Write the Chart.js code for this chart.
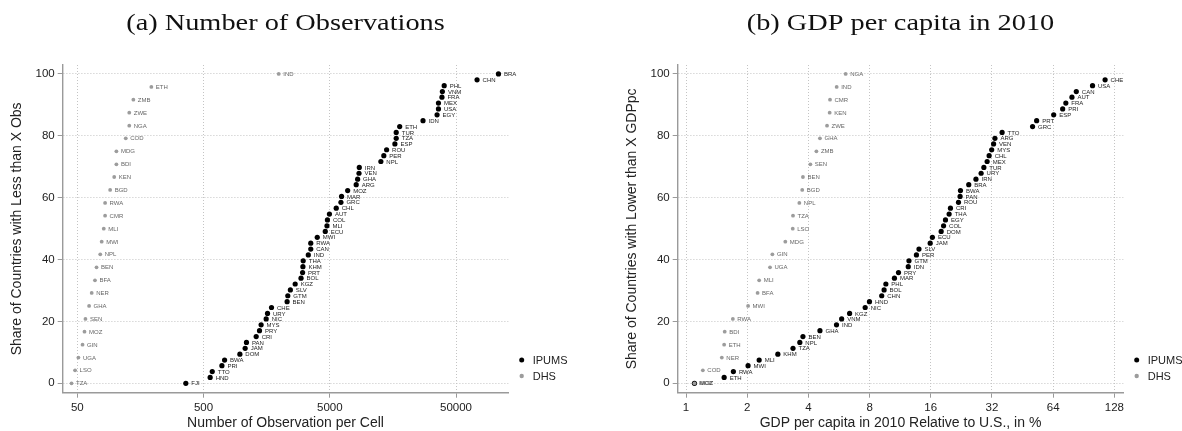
<!DOCTYPE html>
<html>
<head>
<meta charset="utf-8">
<script src="https://cdn.jsdelivr.net/npm/chart.js@4.4.1/dist/chart.umd.min.js"></script>
<style>
  html, body { margin: 0; padding: 0; background: #fff; }
  #wrap { position: relative; width: 1182px; height: 431px; overflow: hidden; }
  canvas { position: absolute; top: 0; }
  #obsChart { left: 0; }
  #gdpChart { left: 615px; }
</style>
</head>
<body>
<div id="wrap">
  <canvas id="obsChart" width="615" height="431"></canvas>
  <canvas id="gdpChart" width="567" height="431"></canvas>
</div>
<script>
// ---- Panel (a): observations per cell ----
const obsDhsCodes = ['TZA','LSO','UGA','GIN','MOZ','SEN','GHA','NER','BFA','BEN','NPL','MWI','MLI','CMR','RWA','BGD','KEN','BDI','MDG','COD','NGA','ZWE','ZMB','ETH','IND'];
const obsDhsValues = [45,48,51,55,57,58,62,65,69,71,76,78,81,83,83,91,98,102,102,121,129,129,139,193,1970];
const obsDhsShares = [0,4.2,8.3,12.5,16.7,20.8,25,29.2,33.3,37.5,41.7,45.8,50,54.2,58.3,62.5,66.7,70.8,75,79.2,83.3,87.5,91.7,95.8,100];

const obsIpumsCodes = ['FJI','HND','TTO','PRI','BWA','DOM','JAM','PAN','CRI','PRY','MYS','NIC','URY','CHE','BEN','GTM','SLV','KGZ','BOL','PRT','KHM','THA','IND','CAN','RWA','MWI','ECU','MLI','COL','AUT','CHL','GRC','MAR','MOZ','ARG','GHA','VEN','IRN','NPL','PER','ROU','ESP','TZA','TUR','ETH','IDN','EGY','USA','MEX','FRA','VNM','PHL','CHN','BRA'];
const obsIpumsValues = [362,564,586,699,734,970,1068,1094,1306,1388,1429,1567,1606,1727,2296,2325,2437,2660,2960,3046,3063,3080,3380,3535,3535,3980,4606,4750,4790,4970,5625,6130,6200,6930,8100,8310,8520,8570,12700,13400,14100,16400,16800,16800,17900,27400,35400,36300,36300,38700,39000,40300,73400,108500];
const obsIpumsShares = [0,1.9,3.8,5.7,7.5,9.4,11.3,13.2,15.1,17.0,18.9,20.8,22.6,24.5,26.4,28.3,30.2,32.1,34.0,35.8,37.7,39.6,41.5,43.4,45.3,47.2,49.1,50.9,52.8,54.7,56.6,58.5,60.4,62.3,64.2,66.0,67.9,69.8,71.7,73.6,75.5,77.4,79.2,81.1,83.0,84.9,86.8,88.7,90.6,92.5,94.3,96.2,98.1,100];
const obsTicks = [50,500,5000,50000];

// ---- Panel (b): GDP per capita relative to the U.S. ----
const gdpDhsCodes = ['MOZ','COD','NER','ETH','BDI','RWA','MWI','BFA','MLI','UGA','GIN','MDG','LSO','TZA','NPL','BGD','BEN','SEN','ZMB','GHA','ZWE','KEN','CMR','IND','NGA'];
const gdpDhsValues = [1.10,1.21,1.50,1.54,1.55,1.70,2.02,2.25,2.29,2.59,2.66,3.08,3.35,3.36,3.61,3.73,3.76,4.09,4.38,4.56,4.94,5.09,5.11,5.51,6.10];
const gdpDhsShares = [0,4.2,8.3,12.5,16.7,20.8,25,29.2,33.3,37.5,41.7,45.8,50,54.2,58.3,62.5,66.7,70.8,75,79.2,83.3,87.5,91.7,95.8,100];

const gdpIpumsCodes = ['MOZ','ETH','RWA','MWI','MLI','KHM','TZA','NPL','BEN','GHA','IND','VNM','KGZ','NIC','HND','CHN','BOL','PHL','MAR','PRY','IDN','GTM','PER','SLV','JAM','ECU','DOM','COL','EGY','THA','CRI','ROU','PAN','BWA','BRA','IRN','URY','TUR','MEX','CHL','MYS','VEN','ARG','TTO','GRC','PRT','ESP','PRI','FRA','AUT','CAN','USA','CHE'];
const gdpIpumsValues = [1.10,1.54,1.71,2.02,2.29,2.83,3.36,3.63,3.76,4.56,5.50,5.83,6.38,7.61,7.99,9.18,9.43,9.62,10.6,11.1,12.4,12.5,13.6,14.0,15.9,16.3,18.0,18.5,18.9,19.7,20.0,21.9,22.3,22.4,24.6,26.7,28.3,29.2,30.3,31.0,31.9,32.6,33.1,35.9,50.7,53.1,64.4,71.3,73.9,79.2,83.2,100.0,115.3];
const gdpIpumsShares = [0,1.9,3.8,5.7,7.5,9.4,11.3,13.2,15.1,17.0,18.9,20.8,22.6,24.5,26.4,28.3,30.2,32.1,34.0,35.8,37.7,39.6,41.5,43.4,45.3,47.2,49.1,50.9,52.8,54.7,56.6,58.5,60.4,62.3,64.2,66.0,67.9,69.8,71.7,73.6,75.5,77.4,79.2,81.1,83.0,84.9,86.8,88.7,90.6,92.5,94.3,96.2,98.1];
const gdpTicks = [1,2,4,8,16,32,64,128];

const shareTicks = [0,20,40,60,80,100];

const SANS = '"Liberation Sans", Arial, sans-serif';
const SERIF = '"Liberation Serif", "Times New Roman", serif';
const AXIS_GREY = '#9a9a9a';
const GRID_GREY = '#c4c4c4';
const DHS_GREY = '#9c9c9c';

function toPoints(xs, ys) {
  return xs.map((x, i) => ({ x: x, y: ys[i] }));
}

// Titles, axis titles, point labels and the legend
const panelDecor = {
  id: 'panelDecor',
  afterDatasetsDraw(chart) {
    const ctx = chart.ctx;
    chart.data.datasets.forEach((ds, di) => {
      const meta = chart.getDatasetMeta(di);
      ctx.save();
      ctx.font = '6px ' + SANS;
      ctx.fillStyle = ds.labelColor;
      ctx.textAlign = 'left';
      ctx.textBaseline = 'middle';
      meta.data.forEach((pt, i) => {
        ctx.fillText(ds.codes[i], pt.x + ds.labelGap, pt.y + 0.5);
      });
      ctx.restore();
    });
  },
  afterDraw(chart, args, opts) {
    const ctx = chart.ctx;
    const area = chart.chartArea;
    const cx = (area.left + area.right) / 2;
    const cy = (area.top + area.bottom) / 2;
    ctx.save();
    // panel title, set wide in the manner of a Computer Modern caption
    ctx.save();
    ctx.fillStyle = '#111';
    ctx.font = '24px ' + SERIF;
    ctx.textAlign = 'center';
    ctx.textBaseline = 'alphabetic';
    ctx.translate(cx, 30);
    ctx.scale(1.18, 1);
    ctx.fillText(opts.title, 0, 0);
    ctx.restore();
    // x axis title
    ctx.fillStyle = '#222';
    ctx.font = '14px ' + SANS;
    ctx.textAlign = 'center';
    ctx.textBaseline = 'middle';
    ctx.fillText(opts.xTitle, cx, 423);
    // y axis title
    ctx.save();
    ctx.translate(17, cy);
    ctx.rotate(-Math.PI / 2);
    ctx.fillText(opts.yTitle, 0, 0);
    ctx.restore();
    // legend
    ctx.font = '11px ' + SANS;
    ctx.textAlign = 'left';
    opts.legend.forEach((item, i) => {
      const y = 360 + i * 16;
      ctx.beginPath();
      ctx.fillStyle = item.color;
      ctx.arc(521.7, y, item.r, 0, Math.PI * 2);
      ctx.fill();
      ctx.fillStyle = '#222';
      ctx.fillText(item.text, 532.7, y + 0.5);
    });
    ctx.restore();
  }
};

function makePanel(canvasId, cfg) {
  const canvas = document.getElementById(canvasId);
  return new Chart(canvas, {
    type: 'scatter',
    data: {
      datasets: [
        {
          label: 'IPUMS',
          data: toPoints(cfg.ipumsX, cfg.ipumsY),
          codes: cfg.ipumsCodes,
          labelColor: '#222',
          labelGap: 5.5,
          pointRadius: 2.6,
          pointHoverRadius: 2.6,
          backgroundColor: '#000',
          borderWidth: 0,
          order: 1
        },
        {
          label: 'DHS',
          data: toPoints(cfg.dhsX, cfg.dhsY),
          codes: cfg.dhsCodes,
          labelColor: '#666',
          labelGap: 4.5,
          pointRadius: 1.9,
          pointHoverRadius: 1.9,
          backgroundColor: DHS_GREY,
          borderWidth: 0,
          order: 0
        }
      ]
    },
    options: {
      responsive: false,
      animation: false,
      devicePixelRatio: 1,
      events: [],
      layout: { padding: { left: 0, top: 65, right: canvas.width - 508.3, bottom: 0 } },
      plugins: {
        legend: { display: false },
        tooltip: { enabled: false },
        panelDecor: {
          title: cfg.title,
          xTitle: cfg.xTitle,
          yTitle: cfg.yTitle,
          legend: [
            { text: 'IPUMS', color: '#000', r: 2.5 },
            { text: 'DHS', color: DHS_GREY, r: 2.2 }
          ]
        }
      },
      scales: {
        x: {
          type: 'logarithmic',
          min: cfg.xMin,
          max: cfg.xMax,
          afterBuildTicks: s => { s.ticks = cfg.xTicks.map(v => ({ value: v })); },
          afterFit: s => { s.height = 38.3; },
          ticks: {
            autoSkip: false,
            maxRotation: 0,
            padding: 3,
            color: '#222',
            font: { family: SANS, size: 11.5 },
            callback: v => String(v)
          },
          grid: { color: GRID_GREY, lineWidth: 1, tickLength: 5, tickColor: AXIS_GREY, tickBorderDash: [], tickWidth: 1 },
          border: { display: true, color: AXIS_GREY, width: 1.4, dash: [1, 2] }
        },
        y: {
          type: 'linear',
          min: -3.04,
          max: 102.9,
          afterBuildTicks: s => { s.ticks = shareTicks.map(v => ({ value: v })); },
          afterFit: s => { s.width = 62.7; },
          ticks: {
            autoSkip: false,
            padding: 3,
            color: '#222',
            font: { family: SANS, size: 11.5 },
            callback: v => String(v)
          },
          grid: { color: GRID_GREY, lineWidth: 1, tickLength: 5, tickColor: AXIS_GREY, tickBorderDash: [], tickWidth: 1 },
          border: { display: true, color: AXIS_GREY, width: 1.4, dash: [1, 2] }
        }
      }
    },
    plugins: [panelDecor]
  });
}

makePanel('obsChart', {
  title: '(a) Number of Observations',
  xTitle: 'Number of Observation per Cell',
  yTitle: 'Share of Countries with Less than X Obs',
  ipumsX: obsIpumsValues, ipumsY: obsIpumsShares, ipumsCodes: obsIpumsCodes,
  dhsX: obsDhsValues, dhsY: obsDhsShares, dhsCodes: obsDhsCodes,
  xMin: 38.3, xMax: 129800, xTicks: obsTicks
});

makePanel('gdpChart', {
  title: '(b) GDP per capita in 2010',
  xTitle: 'GDP per capita in 2010 Relative to U.S., in %',
  yTitle: 'Share of Countries with Lower than X GDPpc',
  ipumsX: gdpIpumsValues, ipumsY: gdpIpumsShares, ipumsCodes: gdpIpumsCodes,
  dhsX: gdpDhsValues, dhsY: gdpDhsShares, dhsCodes: gdpDhsCodes,
  xMin: 0.91, xMax: 141.7, xTicks: gdpTicks
});
</script>
</body>
</html>
